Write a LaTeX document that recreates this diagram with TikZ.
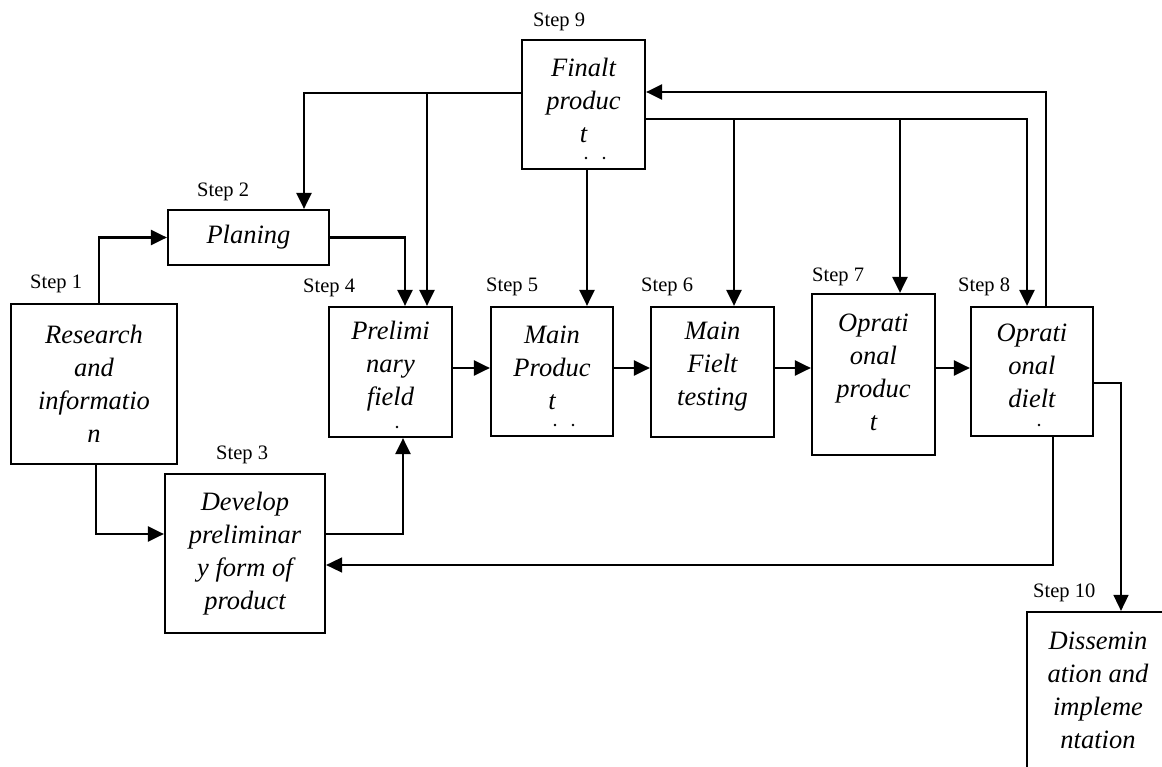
\documentclass[tikz,border=0pt]{standalone}
\usepackage{fontspec}
\setmainfont{Liberation Serif}
\usetikzlibrary{arrows.meta}
\begin{document}
\begin{tikzpicture}[x=1pt,y=-1pt,
  box/.style={draw, line width=2.2pt, align=center, inner sep=0pt,
    font=\fontsize{26.5}{33}\selectfont\itshape},
  txt/.style={align=center, inner sep=0pt,
    font=\fontsize{26.5}{33}\selectfont\itshape},
  lbl/.style={anchor=west, inner sep=0pt, font=\fontsize{20.5}{22}\selectfont},
  speck/.style={circle, fill=black, inner sep=0pt, minimum size=2.6pt},
  con/.style={line width=2.4pt},
  thin/.style={line width=1.6pt},
  arr/.style={-{Triangle[length=16pt,width=15pt]}}]
\useasboundingbox (0,0) rectangle (1162,767);

% boxes
\node[box, minimum width=166pt, minimum height=160pt] (s1) at (94,384) {Research\\and\\informatio\\n};
\node[box, minimum width=161pt, minimum height=55pt] (s2) at (248.5,237.5) {Planing};
\node[box, minimum width=160pt, minimum height=159pt] (s3) at (245,553.5) {Develop\\preliminar\\y form of\\product};
\node[box, minimum width=123pt, minimum height=130pt] (s4) at (390.5,372) {};
\node[box, minimum width=122pt, minimum height=129pt] (s5) at (552,371.5) {};
\node[box, minimum width=123pt, minimum height=130pt] (s6) at (712.5,372) {};
\node[box, minimum width=123pt, minimum height=161pt] (s7) at (873.5,374.5) {};
\node[box, minimum width=122pt, minimum height=129pt] (s8) at (1032,371.5) {};
\node[box, minimum width=123pt, minimum height=129pt] (s9) at (583.5,104.5) {};
\node[box, minimum width=142pt, minimum height=156pt] (s10) at (1098,690) {Dissemin\\ation and\\impleme\\ntation};

% box texts
\node[txt] (t4) at (390.5,366) {Prelimi\\nary\\field};
\node[txt] (t5) at (552,368) {Main\\Produc\\t};
\node[txt] (t6) at (712.5,367) {Main\\Fielt\\testing};
\node[txt] (t7) at (873.5,372) {Oprati\\onal\\produc\\t};
\node[txt] (t8) at (1032,366) {Oprati\\onal\\dielt};
\node[txt] (t9) at (583.5,100) {Finalt\\produc\\t};

% step labels
\node[lbl] (l1) at (30,284) {Step 1};
\node[lbl] (l2) at (197,192) {Step 2};
\node[lbl] (l3) at (216,455) {Step 3};
\node[lbl] (l4) at (303,288) {Step 4};
\node[lbl] (l5) at (486,287) {Step 5};
\node[lbl] (l6) at (641,287) {Step 6};
\node[lbl] (l7) at (812,277) {Step 7};
\node[lbl] (l8) at (958,287) {Step 8};
\node[lbl] (l9) at (533,22) {Step 9};
\node[lbl] (l10) at (1033,593) {Step 10};

% leftover specks
\node[speck] (d1) at (586,158) {};
\node[speck] (d2) at (604,158) {};
\node[speck] (d3) at (555,425) {};
\node[speck] (d4) at (573,425) {};
\node[speck] (d5) at (397,427) {};
\node[speck] (d6) at (1039,425) {};

% helper coordinates
\coordinate (p9w) at ([yshift=11.5pt]s9.west);
\coordinate (p9e) at ([yshift=-14.5pt]s9.east);
\coordinate (p9r) at ([yshift=12.5pt]s9.east);
\coordinate (a2) at ([xshift=55.5pt]s2.north);
\coordinate (a4a) at ([xshift=14.5pt]s4.north);
\coordinate (a4b) at ([xshift=36.5pt]s4.north);
\coordinate (a5) at ([xshift=35pt]s5.north);
\coordinate (a6) at ([xshift=21.5pt]s6.north);
\coordinate (a7) at ([xshift=26.5pt]s7.north);
\coordinate (a8) at ([xshift=-5pt]s8.north);
\coordinate (o8) at ([xshift=14pt]s8.north);
\coordinate (b8) at ([xshift=21pt]s8.south);
\coordinate (e8) at ([yshift=-11.5pt]s8.east);
\coordinate (a10) at ([xshift=23pt]s10.north);
\coordinate (a4s) at ([xshift=12.5pt]s4.south);
\coordinate (e3) at ([yshift=19.5pt]s3.east);
\coordinate (i3) at ([yshift=-11.5pt]s3.east);
\coordinate (o1) at ([xshift=5pt]s1.north);
\coordinate (u1) at ([xshift=2pt]s1.south);
\coordinate (w3) at ([yshift=19.5pt]s3.west);
\coordinate (c4) at ([yshift=4pt]s4.east);
\coordinate (c5) at ([yshift=3.5pt]s5.east);
\coordinate (c6) at ([yshift=4pt]s6.east);
\coordinate (c7) at ([yshift=6.5pt]s7.east);

% connectors
\draw[con,arr] (o1) |- (s2.west);
\draw[con,arr] (u1) |- (w3);
\draw[con,arr] (s2.east) -| (a4a);
\draw[con,arr] (e3) -| (a4s);
\draw[con,arr] (p9w) -| (a2);
\draw[con,arr] (a4b |- p9w) -- (a4b);
\draw[con,arr] (a5 |- s9.south) -- (a5);
\draw[con,arr] (p9e) -| (a8);
\draw[con,arr] (a6 |- p9e) -- (a6);
\draw[con,arr] (a7 |- p9e) -- (a7);
\draw[con,arr] (o8) |- (p9r);
\draw[con,arr] (c4) -- (c4 -| s5.west);
\draw[con,arr] (c5) -- (c5 -| s6.west);
\draw[con,arr] (c6) -- (c6 -| s7.west);
\draw[con,arr] (c7) -- (c7 -| s8.west);
\draw[thin,arr] (b8) |- (i3);
\draw[thin,arr] (e8) -| (a10);
\end{tikzpicture}
\end{document}
